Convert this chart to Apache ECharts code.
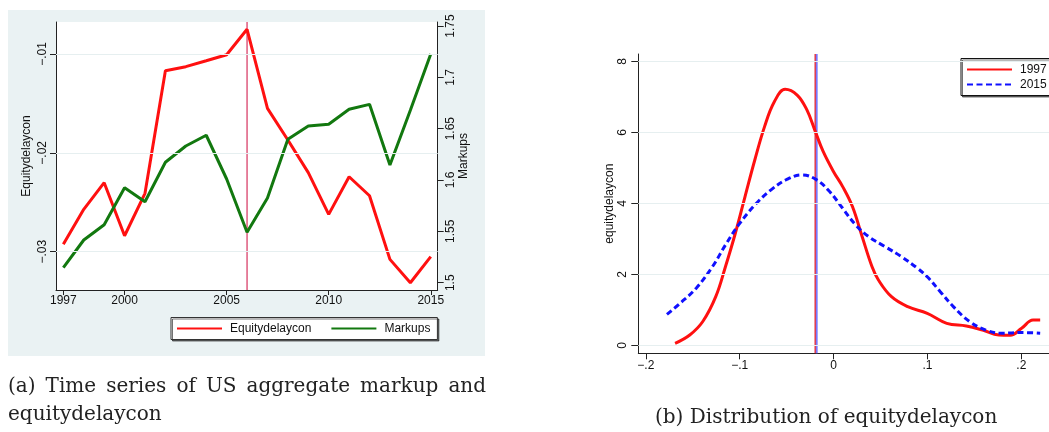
<!DOCTYPE html>
<html>
<head>
<meta charset="utf-8">
<script src="https://cdn.jsdelivr.net/npm/echarts@6/dist/echarts.min.js"></script>
<style>
html,body{margin:0;padding:0;background:#fff;}
#c{width:1049px;height:432px;}
</style>
</head>
<body>
<div id="c"></div>
<script>
// ---------- Panel (a) data ----------
var years = [1997,1998,1999,2000,2001,2002,2003,2004,2005,2006,2007,2008,2009,2010,2011,2012,2013,2014,2015];
var equityDelay = [-0.02926,-0.02572,-0.02302,-0.02839,-0.0241,-0.01169,-0.01128,-0.01068,-0.01007,-0.0075,-0.0155,-0.0187,-0.0220,-0.02623,-0.02242,-0.02434,-0.03078,-0.03315,-0.03051];
var markups = [1.5146,1.5416,1.5565,1.5925,1.5789,1.6173,1.6331,1.6436,1.601,1.5491,1.5825,1.6397,1.6526,1.6543,1.6689,1.6737,1.6146,1.668,1.7227];
var yearTicks = [1997,2000,2005,2010,2015];
var leftTickVals = [-0.03,-0.02,-0.01];
var leftTickLabels = ["\u2212.03","\u2212.02","\u2212.01"];
var rightTickVals = [1.5,1.55,1.6,1.65,1.7,1.75];
var rightTickLabels = ["1.5","1.55","1.6","1.65","1.7","1.75"];
var markYear = 2006;

// ---------- Panel (b) data ----------
var dens1997X = [-0.1688,-0.1532,-0.1393,-0.1255,-0.1151,-0.1047,-0.0943,-0.0839,-0.0735,-0.0631,-0.0516,-0.0388,-0.0284,-0.0194,-0.0111,0,0.0097,0.0201,0.0305,0.0409,0.0478,0.0617,0.079,0.0998,0.1206,0.1414,0.1588,0.1761,0.1882,0.2003,0.2125,0.2201];
var dens1997Y = [0.056,0.29,0.67,1.37,2.22,3.15,4.19,5.22,6.16,6.86,7.21,7.05,6.63,6.02,5.46,4.89,4.47,3.91,3.06,2.22,1.84,1.37,1.09,0.90,0.62,0.545,0.43,0.29,0.28,0.48,0.71,0.71];
var dens2015X = [-0.1775,-0.1636,-0.1463,-0.1289,-0.1151,-0.1012,-0.0839,-0.0666,-0.0492,-0.0336,-0.018,-0.0042,0.0097,0.0236,0.0374,0.0548,0.0721,0.0894,0.0998,0.1137,0.1276,0.1449,0.1622,0.1795,0.2003,0.2201];
var dens2015Y = [0.87,1.18,1.61,2.22,2.83,3.39,3.95,4.38,4.68,4.80,4.66,4.33,3.86,3.39,3.06,2.78,2.50,2.17,1.93,1.51,1.09,0.67,0.43,0.34,0.36,0.34];
var densXTickVals = [-0.2,-0.1,0,0.1,0.2];
var densXTickLabels = ["\u2212.2","\u2212.1","0",".1",".2"];
var densYTickVals = [0,2,4,6,8];
var densYTickLabels = ["0","2","4","6","8"];
var mean1997 = -0.0196;
var mean2015 = -0.018;

var captionA1 = ["(a)","Time","series","of","US","aggregate","markup","and"];
var captionA2 = "equitydelaycon";
var captionB = "(b) Distribution of equitydelaycon";

// axis extents
var aXMin = 1996.64, aXMax = 2015.34;
var aYMin = -0.03388, aYMax = -0.00676;
var aY2Min = 1.4929, aY2Max = 1.7539;
var bXMin = -0.208, bXMax = 0.2295;
var bYMin = -0.225, bYMax = 8.206;

function pair(xs, ys){ return xs.map(function(x,i){ return [x, ys[i]]; }); }
function lab(vals, labels){
  return function(v){
    for (var i=0;i<vals.length;i++){ if (Math.abs(v-vals[i])<1e-6) return labels[i]; }
    return '';
  };
}

var SANS = '"Liberation Sans", Arial, sans-serif';
var CAPFAMILY = '"DejaVu Serif"';

// fit caption size to the width of caption (b) in the reference layout
var cv = document.createElement('canvas').getContext('2d');
cv.font = '20px ' + CAPFAMILY;
var capSize = Math.min(20, 20 * 348 / cv.measureText(captionB).width);
var capFont = capSize.toFixed(2) + 'px ' + CAPFAMILY;
cv.font = capFont;
var widths = captionA1.map(function(w){ return cv.measureText(w).width; });
var total = widths.reduce(function(a,b){return a+b;},0);
var capLeft = 8, capRight = 486;
var gap = (capRight - capLeft - total) / (captionA1.length - 1);
var graphics = [
  {type:'rect', z:-10, shape:{x:8,y:10,width:477,height:346}, style:{fill:'#eaf2f3'}, silent:true}
];
var cx = capLeft;
captionA1.forEach(function(w,i){
  graphics.push({type:'text', x:cx, y:387, style:{text:w, font: capFont, fill:'#222', textVerticalAlign:'middle'}});
  cx += widths[i] + gap;
});
graphics.push({type:'text', x:capLeft, y:415, style:{text:captionA2, font: capFont, fill:'#222', textVerticalAlign:'middle'}});
graphics.push({type:'text', x:655, y:418, style:{text:captionB, font: capFont, fill:'#222', textVerticalAlign:'middle'}});

var axisLineStyle = {color:'#222', width:1};
var lblStyle = {color:'#111', fontFamily:SANS, fontSize:12};
var legendCommon = {
  itemWidth:45, itemHeight:12, backgroundColor:'#fff',
  shadowColor:'rgba(0,0,0,0.55)', shadowOffsetX:1.5, shadowOffsetY:1.5, shadowBlur:0,
  itemStyle:{opacity:0, borderWidth:0},
  textStyle:{color:'#111', fontFamily:SANS, fontSize:12, padding:[0,0,0,3]}
};
function gridLines(vals, color){
  return {silent:true, symbol:'none', label:{show:false}, animation:false,
    lineStyle:{color:color, width:1.2, type:'solid'},
    data: vals.map(function(v){return {yAxis:v, lineStyle:{color:color, width:1.2, type:'solid'}};})};
}
function vline(x, y0, y1, xi, yi, color, width, z){
  return {type:'line', xAxisIndex:xi, yAxisIndex:yi, z:z, silent:true, symbol:'none',
    data:[[x,y0],[x,y1]], lineStyle:{color:color, width:width}, itemStyle:{color:color}};
}

var chart = echarts.init(document.getElementById('c'), null, {renderer:'canvas'});
chart.setOption({
  animation:false,
  backgroundColor:'#ffffff',
  graphic: graphics,
  grid:[
    {left:56, top:22, right:1049-437.7, bottom:432-290, show:true, backgroundColor:'#ffffff', borderWidth:0},
    {left:638.3, top:54, right:-10.5, bottom:432-353.3, show:false}
  ],
  legend:[
    Object.assign({data:['Equitydelaycon','Markups'], orient:'horizontal', left:171, top:317.5,
     itemGap:19, padding:[5,7,5,5], borderColor:'#333', borderWidth:1}, legendCommon),
    Object.assign({data:['1997','2015'], orient:'vertical', left:961, top:58.5,
     itemGap:3, padding:[5,20,5,5], borderColor:'#111', borderWidth:1}, legendCommon)
  ],
  xAxis:[
    {gridIndex:0, type:'value', min:aXMin, max:aXMax,
     axisLine:{show:true, lineStyle:axisLineStyle, onZero:false},
     axisTick:{show:true, length:5, lineStyle:axisLineStyle, customValues:yearTicks},
     axisLabel:Object.assign({margin:5, customValues:yearTicks, formatter:function(v){return String(v);}}, lblStyle),
     splitLine:{show:false}},
    {gridIndex:1, type:'value', min:bXMin, max:bXMax,
     axisLine:{show:true, lineStyle:axisLineStyle, onZero:false},
     axisTick:{show:true, length:6, lineStyle:axisLineStyle, customValues:densXTickVals},
     axisLabel:Object.assign({margin:6, customValues:densXTickVals, formatter:lab(densXTickVals,densXTickLabels)}, lblStyle),
     splitLine:{show:false}}
  ],
  yAxis:[
    {gridIndex:0, type:'value', position:'left', min:aYMin, max:aYMax,
     name:'Equitydelaycon', nameLocation:'middle', nameGap:23, nameTextStyle:{color:'#111', fontFamily:SANS, fontSize:12},
     axisLine:{show:true, lineStyle:axisLineStyle, onZero:false},
     axisTick:{show:true, length:6, lineStyle:axisLineStyle, customValues:leftTickVals},
     axisLabel:Object.assign({rotate:90, margin:7, customValues:leftTickVals, formatter:lab(leftTickVals,leftTickLabels)}, lblStyle),
     splitLine:{show:false}},
    {gridIndex:0, type:'value', position:'right', min:aY2Min, max:aY2Max,
     name:'Markups', nameLocation:'middle', nameGap:19, nameRotate:90, nameTextStyle:{color:'#111', fontFamily:SANS, fontSize:12},
     axisLine:{show:true, lineStyle:axisLineStyle, onZero:false},
     axisTick:{show:true, length:6, lineStyle:axisLineStyle, customValues:rightTickVals},
     axisLabel:Object.assign({rotate:90, margin:7, customValues:rightTickVals, formatter:lab(rightTickVals,rightTickLabels)}, lblStyle),
     splitLine:{show:false}},
    {gridIndex:1, type:'value', position:'left', min:bYMin, max:bYMax,
     name:'equitydelaycon', nameLocation:'middle', nameGap:22, nameTextStyle:{color:'#111', fontFamily:SANS, fontSize:12},
     axisLine:{show:true, lineStyle:axisLineStyle, onZero:false},
     axisTick:{show:true, length:7, lineStyle:axisLineStyle, customValues:densYTickVals},
     axisLabel:Object.assign({rotate:90, margin:10, customValues:densYTickVals, formatter:lab(densYTickVals,densYTickLabels)}, lblStyle),
     splitLine:{show:false}}
  ],
  series:[
    {type:'line', xAxisIndex:0, yAxisIndex:0, data:[], z:1, silent:true, itemStyle:{color:'#e6eff0'},
     markLine:gridLines(leftTickVals, '#e6eff0')},
    vline(markYear, aYMin, aYMax, 0, 0, '#d9406a', 1.3, 2),
    {name:'Equitydelaycon', type:'line', xAxisIndex:0, yAxisIndex:0, z:3,
     data: pair(years, equityDelay), symbol:'none', lineStyle:{color:'#ff1010', width:3}, itemStyle:{color:'#ff1010'}},
    {name:'Markups', type:'line', xAxisIndex:0, yAxisIndex:1, z:3,
     data: pair(years, markups), symbol:'none', lineStyle:{color:'#12780f', width:3}, itemStyle:{color:'#12780f'}},

    {type:'line', xAxisIndex:1, yAxisIndex:2, data:[], z:1, silent:true, itemStyle:{color:'#e6eff0'},
     markLine:gridLines(densYTickVals, '#e6eff0')},
    vline(mean2015, bYMin, bYMax, 1, 2, '#7878ff', 2, 2),
    vline(mean1997, bYMin, bYMax, 1, 2, '#dd1020', 1.2, 2),
    {name:'1997', type:'line', xAxisIndex:1, yAxisIndex:2, z:3, smooth:0.4,
     data: pair(dens1997X, dens1997Y), symbol:'none', lineStyle:{color:'#ff1010', width:3}, itemStyle:{color:'#ff1010'}},
    {name:'2015', type:'line', xAxisIndex:1, yAxisIndex:2, z:3, smooth:0.4,
     data: pair(dens2015X, dens2015Y), symbol:'none', lineStyle:{color:'#1010ff', width:3, type:[6,3.5]}, itemStyle:{color:'#1010ff'}}
  ]
});
</script>
</body>
</html>
